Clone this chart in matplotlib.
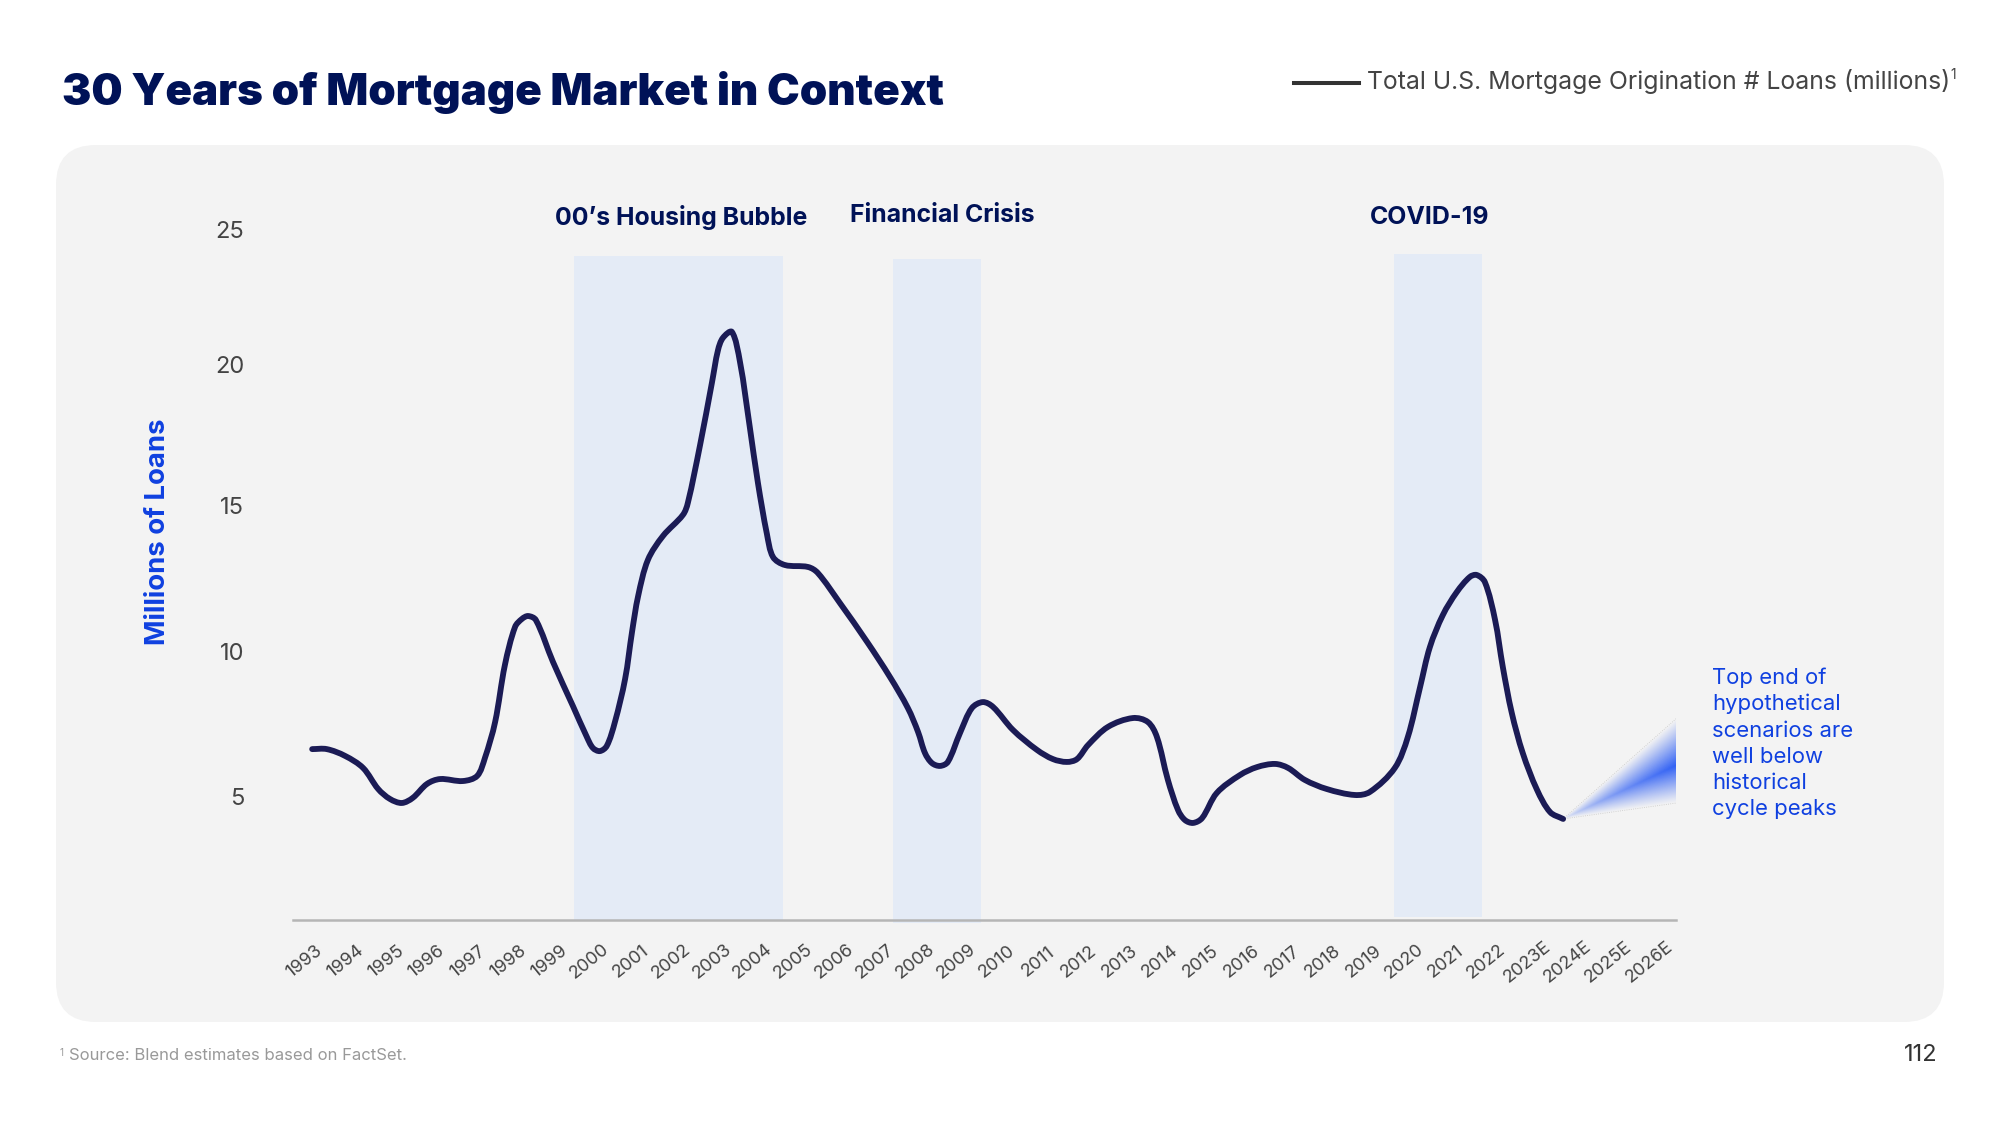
import numpy as np
import matplotlib
matplotlib.use("Agg")
import matplotlib.pyplot as plt
from matplotlib.patches import FancyBboxPatch, PathPatch, Polygon
from matplotlib.path import Path
from matplotlib.transforms import ScaledTranslation

plt.rcParams["font.family"] = ["Inter", "DejaVu Sans"]

# years on the tick axis, the last ones are estimates
tick_years = list(range(1993, 2027))
tick_labels = [str(y) for y in range(1993, 2023)] + ["2023E", "2024E", "2025E", "2026E"]
y_ticks = [5, 10, 15, 20, 25]

loan_years = [1993.25, 1993.61, 1994.06, 1994.50, 1994.87, 1995.16, 1995.45, 1995.72, 1996.07, 1996.39,
              1996.95, 1997.30, 1997.49, 1997.74, 1997.98, 1998.23, 1998.40, 1998.55, 1998.74, 1999.16,
              1999.65, 1999.99, 2000.14, 2000.31, 2000.48, 2000.68, 2000.93, 2001.10, 2001.25, 2001.49,
              2001.86, 2002.35, 2002.47, 2002.77, 2003.06, 2003.21, 2003.33, 2003.55, 2003.75, 2003.99,
              2004.19, 2004.41, 2004.56, 2004.85, 2005.42, 2005.66, 2006.20, 2006.87, 2007.43, 2007.87,
              2008.12, 2008.29, 2008.46, 2008.66, 2008.85, 2009.15, 2009.44, 2009.71, 2009.96, 2010.45,
              2011.04, 2011.43, 2011.77, 2012.02, 2012.29, 2012.78, 2013.39, 2013.76, 2013.98, 2014.25,
              2014.50, 2014.67, 2014.87, 2015.09, 2015.45, 2016.02, 2016.44, 2016.88, 2017.20, 2017.61,
              2018.15, 2018.84, 2019.21, 2019.82, 2020.14, 2020.44, 2020.68, 2021.00, 2021.34, 2021.66,
              2021.83, 2022.03, 2022.28, 2022.47, 2022.69, 2022.96, 2023.31, 2023.63, 2023.95]
loans = [6.61, 6.61, 6.37, 5.95, 5.21, 4.86, 4.72, 4.90, 5.39, 5.56,
         5.49, 5.67, 6.30, 7.56, 9.56, 10.90, 11.18, 11.28, 11.14, 9.67,
         8.12, 7.04, 6.65, 6.54, 6.72, 7.56, 9.07, 10.72, 11.98, 13.25,
         14.09, 14.83, 15.25, 17.28, 19.46, 20.61, 21.04, 21.25, 20.19, 17.91,
         15.95, 14.16, 13.35, 13.07, 13.00, 12.79, 11.74, 10.37, 9.14, 8.05,
         7.21, 6.47, 6.12, 6.02, 6.16, 7.18, 8.05, 8.26, 8.09, 7.28,
         6.58, 6.26, 6.16, 6.26, 6.75, 7.39, 7.70, 7.56, 7.04, 5.53,
         4.47, 4.12, 4.02, 4.19, 5.07, 5.70, 5.98, 6.09, 5.95, 5.53,
         5.21, 5.00, 5.11, 5.95, 7.04, 8.79, 10.19, 11.32, 12.12, 12.65,
         12.72, 12.47, 11.14, 9.49, 7.88, 6.47, 5.18, 4.40, 4.16]

band_names = ["00’s Housing Bubble", "Financial Crisis", "COVID-19"]
band_start = [1999.67, 2007.50, 2019.80]
band_end = [2004.80, 2009.66, 2021.96]
band_top = [23.91, 23.81, 23.98]
band_bottom = [0.61, 0.51, 0.72]

# hypothetical scenarios wedge
wedge_end_year = 2026.74
wedge_high = 7.70
wedge_mid = 6.05
wedge_low = 4.72

navy = "#001257"
blue = "#0F40E0"
grey = "#444444"

fig = plt.figure(figsize=(20, 11.25), dpi=100, facecolor="white")

# page layer in pixels, for the panel and the loose texts
page = fig.add_axes([0, 0, 1, 1])
page.set_xlim(0, 2000)
page.set_ylim(1125, 0)
page.axis("off")
page.add_patch(FancyBboxPatch((56, 145), 1888, 877, boxstyle="round,pad=0,rounding_size=40",
                              fc="#F3F3F3", ec="none"))

page.text(62, 105, "30 Years of Mortgage Market in Context", fontsize=31.6, fontweight="black",
          color=navy, va="baseline")
page.plot([1294, 1359], [83, 83], color="#333333", lw=2.9)
page.text(1367, 82, "Total U.S. Mortgage Origination # Loans (millions)", fontsize=17.85,
          color=grey, va="center")
page.text(1950, 75, "1", fontsize=10, color=grey, va="center")
page.text(158, 532, "Millions of Loans", fontsize=19.8, fontweight="bold", color=blue,
          rotation=90, ha="center", va="center")
page.text(60, 1053, "1", fontsize=7, color="#999999", va="center")
page.text(69, 1056, "Source: Blend estimates based on FactSet.", fontsize=12, color="#999999", va="center")
page.text(1938, 1055, "112", fontsize=17, color="#333333", ha="right", va="center")
page.text(1712, 743, "Top end of\nhypothetical\nscenarios are\nwell below\nhistorical\ncycle peaks",
          fontsize=15.9, color=blue, va="center", linespacing=1.38)

band_label_x = [681, 942, 1430]
band_label_y = [218, 216, 217]
for name, lx, ly in zip(band_names, band_label_x, band_label_y):
    page.text(lx, ly, name, fontsize=17.9, fontweight="bold", color=navy, ha="center", va="center")

# chart axes, 293..1676 wide and 200..920 down on the page
ax = fig.add_axes([293 / 2000, 1 - 920 / 1125, 1383 / 2000, 720 / 1125])
ax.patch.set_alpha(0)
ax.set_xlim(1992.78, 2026.72)
ax.set_ylim(0.614, 25.877)

for start, end, top, bottom in zip(band_start, band_end, band_top, band_bottom):
    ax.fill_between([start, end], bottom, top, color="#E4EBF6", lw=0, zorder=1, clip_on=False)

for side in ["top", "right", "left"]:
    ax.spines[side].set_visible(False)
ax.spines["bottom"].set_color("#B5B5B5")
ax.spines["bottom"].set_linewidth(1.8)
ax.spines["bottom"].set_zorder(2)

ax.set_yticks(y_ticks)
ax.set_xticks(tick_years)
ax.set_xticklabels(tick_labels)
ax.tick_params(axis="y", length=0, pad=35, labelsize=17, labelcolor=grey)
ax.tick_params(axis="x", length=0, pad=30, labelsize=13, labelcolor=grey)
for lab in ax.get_xticklabels():
    lab.set_rotation(39)
    lab.set_ha("center")
    lab.set_va("center")
    lab.set_transform(lab.get_transform() + ScaledTranslation(0.025, 0, fig.dpi_scale_trans))

# the y labels in the source are not evenly spaced, nudge them (pixels down)
for lab, nudge in zip(ax.get_yticklabels(), [2, -0.5, -4, -2.5, 5]):
    lab.set_transform(lab.get_transform() + ScaledTranslation(0, -nudge / 100, fig.dpi_scale_trans))

# smooth curve through the read points
pts = np.column_stack([loan_years, loans])
seg = np.hypot(np.diff(loan_years) * 40.75, np.diff(loans) * 28.5)
slopes = np.vstack([(pts[1] - pts[0]) / seg[0],
                    (pts[2:] - pts[:-2]) / (seg[:-1] + seg[1:])[:, None],
                    (pts[-1] - pts[-2]) / seg[-1]])
verts = [pts[0]]
codes = [Path.MOVETO]
for i in range(len(pts) - 1):
    verts += [pts[i] + slopes[i] * seg[i] / 3, pts[i + 1] - slopes[i + 1] * seg[i] / 3, pts[i + 1]]
    codes += [Path.CURVE4, Path.CURVE4, Path.CURVE4]
ax.add_patch(PathPatch(Path(verts, codes), fill=False, ec="#1B1B55", lw=4.2, capstyle="round",
                       joinstyle="round", zorder=4))

# wedge, gradient image clipped to a triangle
tip_x, tip_y = loan_years[-1], loans[-1]
gx, gy = np.meshgrid(np.linspace(tip_x, wedge_end_year, 240), np.linspace(tip_y, wedge_high, 300))
u = (gx - tip_x) / (wedge_end_year - tip_x)
mid = tip_y + u * (wedge_mid - tip_y)
hi = tip_y + u * (wedge_high - tip_y) + 1e-6
lo = tip_y + u * (wedge_low - tip_y) - 1e-6
d = np.where(gy >= mid, (gy - mid) / (hi - mid), (mid - gy) / (mid - lo))
rgba = np.zeros(gx.shape + (4,))
rgba[..., :3] = matplotlib.colors.to_rgb("#3060F5")
rgba[..., 3] = np.clip(1 - d, 0, 1) ** 1.1 * np.clip(u, 0, 1) ** 0.6
tri = Polygon([(tip_x, tip_y), (wedge_end_year, wedge_high), (wedge_end_year, wedge_low)],
              transform=ax.transData, fc="none", ec="none")
ax.add_patch(tri)
im = ax.imshow(rgba, extent=(tip_x, wedge_end_year, tip_y, wedge_high), origin="lower",
               aspect="auto", zorder=3, interpolation="bilinear")
im.set_clip_path(tri)
ax.set_xlim(1992.78, 2026.72)
ax.set_ylim(0.614, 25.877)
ax.plot([tip_x, wedge_end_year], [tip_y, wedge_high], color="#C8C8C8", lw=0.6, ls=":", zorder=3)
ax.plot([tip_x, wedge_end_year], [tip_y, wedge_low], color="#C8C8C8", lw=0.6, ls=":", zorder=3)

fig.savefig("out.png", dpi=100, facecolor="white")
